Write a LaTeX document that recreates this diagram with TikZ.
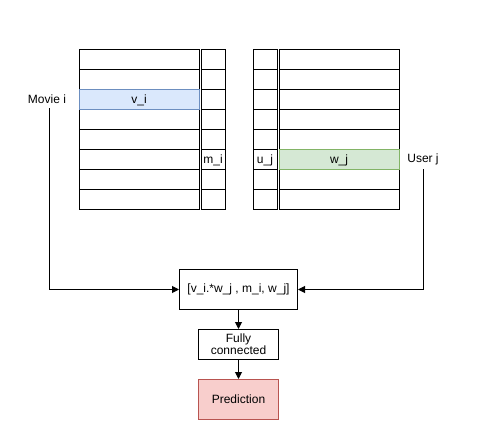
\documentclass[tikz,border=0pt]{standalone}
\usepackage{fontspec}
\setmainfont{Liberation Sans}
\usetikzlibrary{arrows.meta}
\definecolor{bluefill}{HTML}{DAE8FC}
\definecolor{bluedraw}{HTML}{6C8EBF}
\definecolor{greenfill}{HTML}{D5E8D4}
\definecolor{greendraw}{HTML}{82B366}
\definecolor{redfill}{HTML}{F8CECC}
\definecolor{reddraw}{HTML}{B85450}
\tikzset{
  cell/.style={draw=black, line width=1pt, minimum width=#1, minimum height=20pt, inner sep=0pt, anchor=north west, font=\fontsize{12pt}{14pt}\selectfont},
  cell/.default=120pt,
  lbl/.style={font=\fontsize{12pt}{14pt}\selectfont, inner sep=0pt},
  box/.style={draw=black, line width=1pt, inner sep=0pt, align=center, font=\fontsize{12pt}{14pt}\selectfont},
  conn/.style={line width=1pt, -{Triangle[length=7pt,width=7pt]}},
}
\begin{document}
\begin{tikzpicture}[x=1pt,y=-1pt]
\useasboundingbox (0,0) rectangle (487,438);
% left table
\foreach \r in {0,...,7} {
  \node[cell=120pt] (L\r) at (78.5,{49.5+20*\r}) {};
  \node[cell=24pt] (S\r) at (200.5,{49.5+20*\r}) {};
  \node[cell=24pt] (U\r) at (252.5,{49.5+20*\r}) {};
  \node[cell=120pt] (R\r) at (278.5,{49.5+20*\r}) {};
}
\node[cell=120pt, fill=bluefill, draw=bluedraw] (vi) at (78.5,89.5) {v\_i};
\node[cell=120pt, fill=greenfill, draw=greendraw] (wj) at (278.5,149.5) {w\_j};
\node[lbl] at (S5.center) {m\_i};
\node[lbl] at (U5.center) {u\_j};
\node[lbl] (movie) at (47,99.5) {Movie i};
\node[lbl] (user) at (423,159.5) {User j};
% boxes
\node[box, minimum width=118pt, minimum height=40pt] (cat) at (238.5,289.5) {[v\_i.*w\_j , m\_i, w\_j]};
\node[box, minimum width=80pt, minimum height=30pt] (fc) at (238.5,344.5) {Fully\\[-2pt]connected};
\node[box, minimum width=80pt, minimum height=40pt, fill=redfill, draw=reddraw] (pred) at (238.5,399.5) {Prediction};
% connectors
\draw[conn] (49.5,108.5) |- (cat.west);
\draw[conn] (423.5,169.5) |- (cat.east);
\draw[conn] (cat.south) -- (fc.north);
\draw[conn] (fc.south) -- (pred.north);
\end{tikzpicture}
\end{document}
